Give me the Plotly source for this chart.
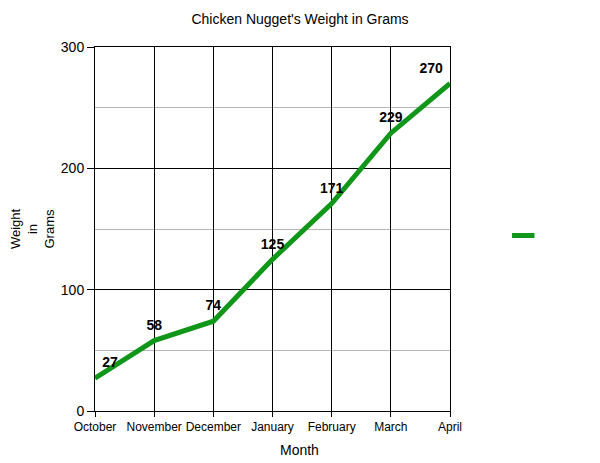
import plotly.graph_objects as go

months = ["October", "November", "December", "January", "February", "March", "April"]
weights = [27, 58, 74, 125, 171, 229, 270]
label_pos = ["top right", "top center", "top center", "top center", "top center", "top center", "top left"]

GREEN = "#109618"
FONT = "Arial, Liberation Sans, sans-serif"

fig = go.Figure()
fig.add_trace(go.Scatter(
    x=months, y=weights, mode="lines+markers+text",
    text=[str(w) for w in weights], textposition=label_pos,
    textfont=dict(family=FONT, size=14, color="#000000", weight="bold"),
    line=dict(color=GREEN, width=5),
    marker=dict(size=10, opacity=0, color=GREEN),
    showlegend=False, cliponaxis=False, hoverinfo="skip",
))
fig.add_trace(go.Scatter(
    x=[None], y=[None], mode="markers", name="",
    marker=dict(symbol="line-ew", size=16, color=GREEN, line=dict(color=GREEN, width=5)),
    showlegend=True,
))

fig.update_layout(
    width=600, height=463,
    margin=dict(l=87, r=158, t=39, b=60),
    paper_bgcolor="white", plot_bgcolor="white",
    font=dict(family=FONT, size=14, color="#000000"),
    title=dict(text="Chicken Nugget's Weight in Grams", x=0.4867, xref="container",
               y=1, yref="container", yanchor="top", pad=dict(t=6),
               font=dict(size=14, family=FONT, color="#000000")),
    legend=dict(x=1.15, y=0.482, xanchor="left", yanchor="middle",
                bgcolor="rgba(0,0,0,0)", font=dict(size=1)),
    annotations=[dict(text="Month", xref="paper", yref="paper", x=0.577, y=0,
                      xanchor="center", yanchor="top", yshift=-29, showarrow=False,
                      font=dict(size=14, family=FONT, color="#000000"))],
)
fig.update_xaxes(
    type="category", range=[0, 6], automargin=False,
    showline=True, linecolor="#000000", linewidth=1, mirror=True,
    showgrid=True, gridcolor="#000000", gridwidth=1,
    ticks="outside", ticklen=5, tickcolor="#000000",
    tickfont=dict(size=12, family=FONT),
    zeroline=False,
)
fig.update_yaxes(
    range=[0, 300], dtick=100, tick0=0, automargin=False,
    showline=True, linecolor="#000000", linewidth=1, mirror=True,
    showgrid=True, gridcolor="#000000", gridwidth=1,
    minor=dict(dtick=50, showgrid=True, gridcolor="#b7b7b7", gridwidth=1),
    ticks="outside", ticklen=7, tickcolor="#000000",
    tickfont=dict(size=14, family=FONT),
    title=dict(text="Weight<br>in<br>Grams", font=dict(size=13, family=FONT), standoff=6),
    zeroline=False,
)

fig.write_html("out.html")
